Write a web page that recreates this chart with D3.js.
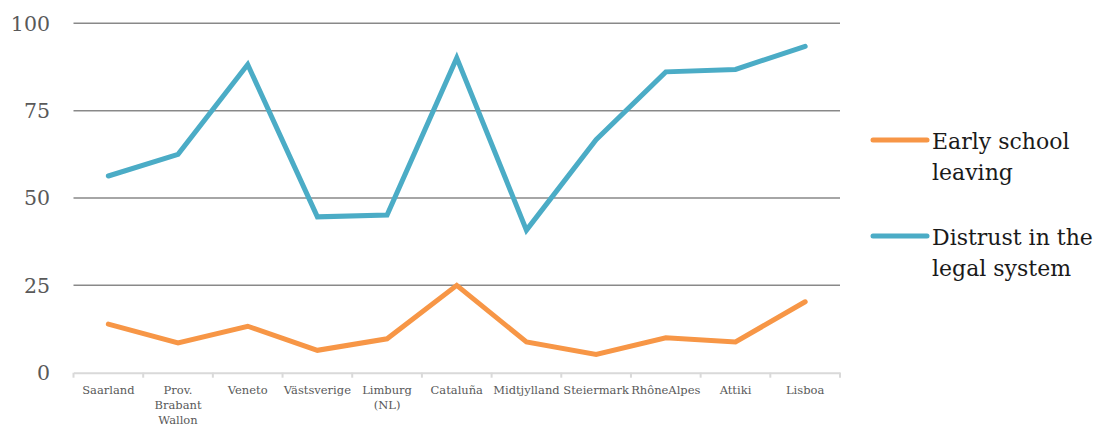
<!DOCTYPE html>
<html><head><meta charset="utf-8">
<script src="https://cdn.jsdelivr.net/npm/d3@7"></script>
<style>body{margin:0;background:#fff}svg{display:block}</style>
</head><body>
<svg id="c" width="1095" height="426"></svg>
<script>
const categories = ["Saarland","Prov. Brabant Wallon","Veneto","Västsverige","Limburg (NL)","Cataluña","Midtjylland","Steiermark","RhôneAlpes","Attiki","Lisboa"];
const categoryLines = [["Saarland"],["Prov.","Brabant","Wallon"],["Veneto"],["Västsverige"],["Limburg","(NL)"],["Cataluña"],["Midtjylland"],["Steiermark"],["RhôneAlpes"],["Attiki"],["Lisboa"]];
const earlySchoolLeaving = [13.9,8.5,13.3,6.4,9.7,25.0,8.8,5.2,10.0,8.8,20.3];
const distrustLegal = [56.3,62.5,88.2,44.6,45.1,90.1,40.8,66.7,86.1,86.8,93.4];
const yTicks = [0,25,50,75,100];
const seriesNames = [["Early school","leaving"],["Distrust in the","legal system"]];
const seriesColors = ["#F79646","#4BACC6"];

const svg = d3.select("#c");
const font = "'DejaVu Serif', 'Liberation Serif', serif";
const x = d3.scaleBand().domain(categories).range([73.5, 840]);
const y = d3.scaleLinear().domain([0,100]).range([372.7, 23.3]);

// gridlines
svg.append("g").selectAll("line").data(yTicks.filter(d=>d>0)).join("line")
  .attr("x1",73.5).attr("x2",840).attr("y1",d=>y(d)).attr("y2",d=>y(d))
  .attr("stroke","#898989").attr("stroke-width",1.5);

// y labels
svg.append("g").selectAll("text").data(yTicks).join("text")
  .attr("x",50).attr("y",d=>y(d)).attr("dy","0.36em").attr("text-anchor","end")
  .attr("font-family",font).attr("font-size",20.5).attr("fill","#595959").text(d=>d);

// x axis
const xa = svg.append("g").attr("transform",`translate(0,${y(0)})`)
  .call(d3.axisBottom(x).tickSize(0).tickFormat(""));
xa.select(".domain").attr("stroke","#d9d9d9").attr("stroke-width",2);
const bounds = categories.map(c=>x(c)).concat([x.range()[1]]);
xa.selectAll("line.tk").data(bounds).join("line").attr("class","tk")
  .attr("x1",d=>d).attr("x2",d=>d).attr("y1",0).attr("y2",5)
  .attr("stroke","#d9d9d9").attr("stroke-width",2);

const lab = svg.append("g").selectAll("text").data(categories).join("text")
  .attr("font-family",font).attr("font-size",11.5).attr("fill","#595959")
  .attr("text-anchor","middle");
lab.each(function(c,i){
  const t = d3.select(this);
  categoryLines[i].forEach((l,j)=>{
    t.append("tspan").attr("x",x(c)+x.bandwidth()/2).attr("y",393.5+j*15).text(l);
  });
});

// lines
const line = d3.line().x((d,i)=>x(categories[i])+x.bandwidth()/2).y(d=>y(d));
[earlySchoolLeaving, distrustLegal].forEach((s,k)=>{
  svg.append("path").datum(s).attr("d",line).attr("fill","none")
    .attr("stroke",seriesColors[k]).attr("stroke-width",5)
    .attr("stroke-linejoin","miter").attr("stroke-linecap","round");
});

// legend
const lg = svg.append("g");
const legY = [140, 236];
seriesNames.forEach((n,k)=>{
  lg.append("line").attr("x1",873).attr("x2",927).attr("y1",legY[k]).attr("y2",legY[k])
    .attr("stroke",seriesColors[k]).attr("stroke-width",5).attr("stroke-linecap","round");
  const t = lg.append("text").attr("font-family",font).attr("font-size",22).attr("fill","#1a1a1a");
  n.forEach((l,j)=>t.append("tspan").attr("x",932).attr("y",legY[k]+9+j*31).text(l));
});
</script>
</body></html>
